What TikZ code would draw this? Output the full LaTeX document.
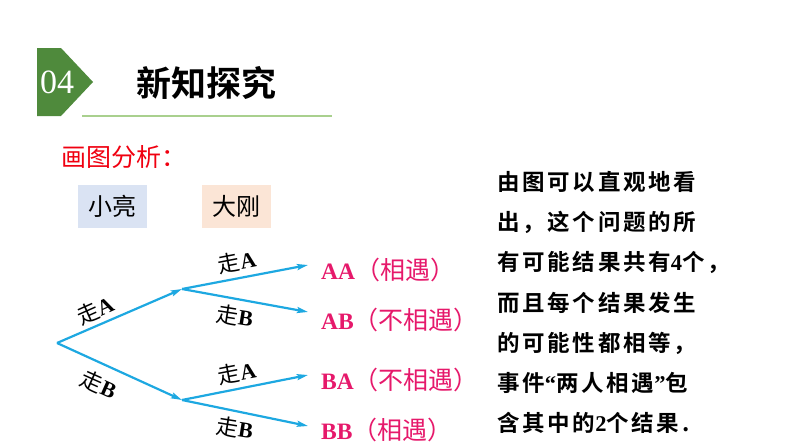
\documentclass[tikz,border=0pt]{standalone}
\usepackage{fontspec}
\setmainfont{Liberation Serif}
\newfontfamily\cjk{Noto Sans CJK SC}[BoldFont=Noto Sans CJK SC Bold]
\usetikzlibrary{arrows.meta}
\definecolor{hdgreen}{HTML}{4F8A3C}
\definecolor{lgreen}{HTML}{A9D08E}
\definecolor{tred}{HTML}{F00010}
\definecolor{pinkred}{HTML}{E6196B}
\definecolor{branch}{HTML}{1DA8E1}
\definecolor{boxblue}{HTML}{DAE3F3}
\definecolor{boxpeach}{HTML}{FBE5D6}
\newcommand{\rescjk}[1]{{\cjk\fontsize{25}{25}\selectfont #1}}
\begin{document}
\begin{tikzpicture}[x=1pt,y=-1pt,
  branchline/.style={draw=branch,line width=2.2pt,-{Stealth[length=11pt,width=6pt,inset=2pt]}},
  walk/.style={inner sep=0pt,font=\fontsize{22}{22}\selectfont},
  result/.style={anchor=west,inner sep=0pt,text=pinkred,font=\fontsize{23.5}{23.5}\selectfont},
  person/.style={minimum width=69pt,minimum height=43pt,inner sep=0pt,font=\cjk\fontsize{24}{24}\selectfont},
  body/.style={anchor=west,inner sep=0pt,font=\cjk\bfseries\fontsize{22.5}{22.5}\selectfont\addfontfeature{LetterSpace=12}}]
\useasboundingbox (0,0) rectangle (794,447);
% header
\fill[hdgreen] (37,48) -- (61,48) -- (93,82) -- (61,116) -- (37,116) -- cycle;
\node[inner sep=0pt,text=white,font=\fontsize{34}{34}\selectfont] (num) at (57,82) {04};
\node[inner sep=0pt,anchor=west,font=\cjk\bfseries\fontsize{35}{35}\selectfont] (title) at (136,83) {新知探究};
\draw[lgreen,line width=2pt] (82,116) -- (332,116);
\node[inner sep=0pt,anchor=west,text=tred,font=\cjk\fontsize{25}{25}\selectfont] (ana) at (61,157) {画图分析：};
% persons
\node[person,fill=boxblue] (xl) at (112.5,206.5) {小亮};
\node[person,fill=boxpeach] (dg) at (236.5,206.5) {大刚};
% tree
\coordinate (r) at (57,343);
\coordinate (m1) at (182,289);
\coordinate (m2) at (182,400);
\coordinate (e1) at (308,265);
\coordinate (e2) at (308,312);
\coordinate (e3) at (308,375);
\coordinate (e4) at (308,426);
\draw[branchline] (r) -- (m1);
\draw[branchline] (r) -- (m2);
\draw[branchline] (m1) -- (e1);
\draw[branchline] (m1) -- (e2);
\draw[branchline] (m2) -- (e3);
\draw[branchline] (m2) -- (e4);
\node[walk,rotate=24] (la) at (95,310) {{\cjk 走}\textbf{A}};
\node[walk,rotate=-24] (lb) at (99,384) {{\cjk 走}\textbf{B}};
\node[walk,rotate=11] (l1) at (237,262) {{\cjk 走}\textbf{A}};
\node[walk,rotate=-9] (l2) at (235,316) {{\cjk 走}\textbf{B}};
\node[walk,rotate=11] (l3) at (237,373) {{\cjk 走}\textbf{A}};
\node[walk,rotate=-9] (l4) at (235,428) {{\cjk 走}\textbf{B}};
% results
\node[result] (o1) at (321,270) {\textbf{AA}\rescjk{（相遇）}};
\node[result] (o2) at (321,320) {\textbf{AB}\rescjk{（不相遇）}};
\node[result] (o3) at (321,380) {\textbf{BA}\rescjk{（不相遇）}};
\node[result] (o4) at (321,430) {\textbf{BB}\rescjk{（相遇）}};
% explanation
\node[body] (t1) at (497,182) {由图可以直观地看};
\node[body] (t2) at (497,222) {出，这个问题的所};
\node[body] (t3) at (497,262) {有可能结果共有{\rmfamily\bfseries 4}个，};
\node[body] (t4) at (497,303) {而且每个结果发生};
\node[body] (t5) at (497,343) {的可能性都相等，};
\node[body] (t6) at (497,383) {事件{\rmfamily\bfseries “}两人相遇{\rmfamily\bfseries ”}包};
\node[body] (t7) at (497,423) {含其中的{\rmfamily\bfseries 2}个结果.};
\end{tikzpicture}
\end{document}
